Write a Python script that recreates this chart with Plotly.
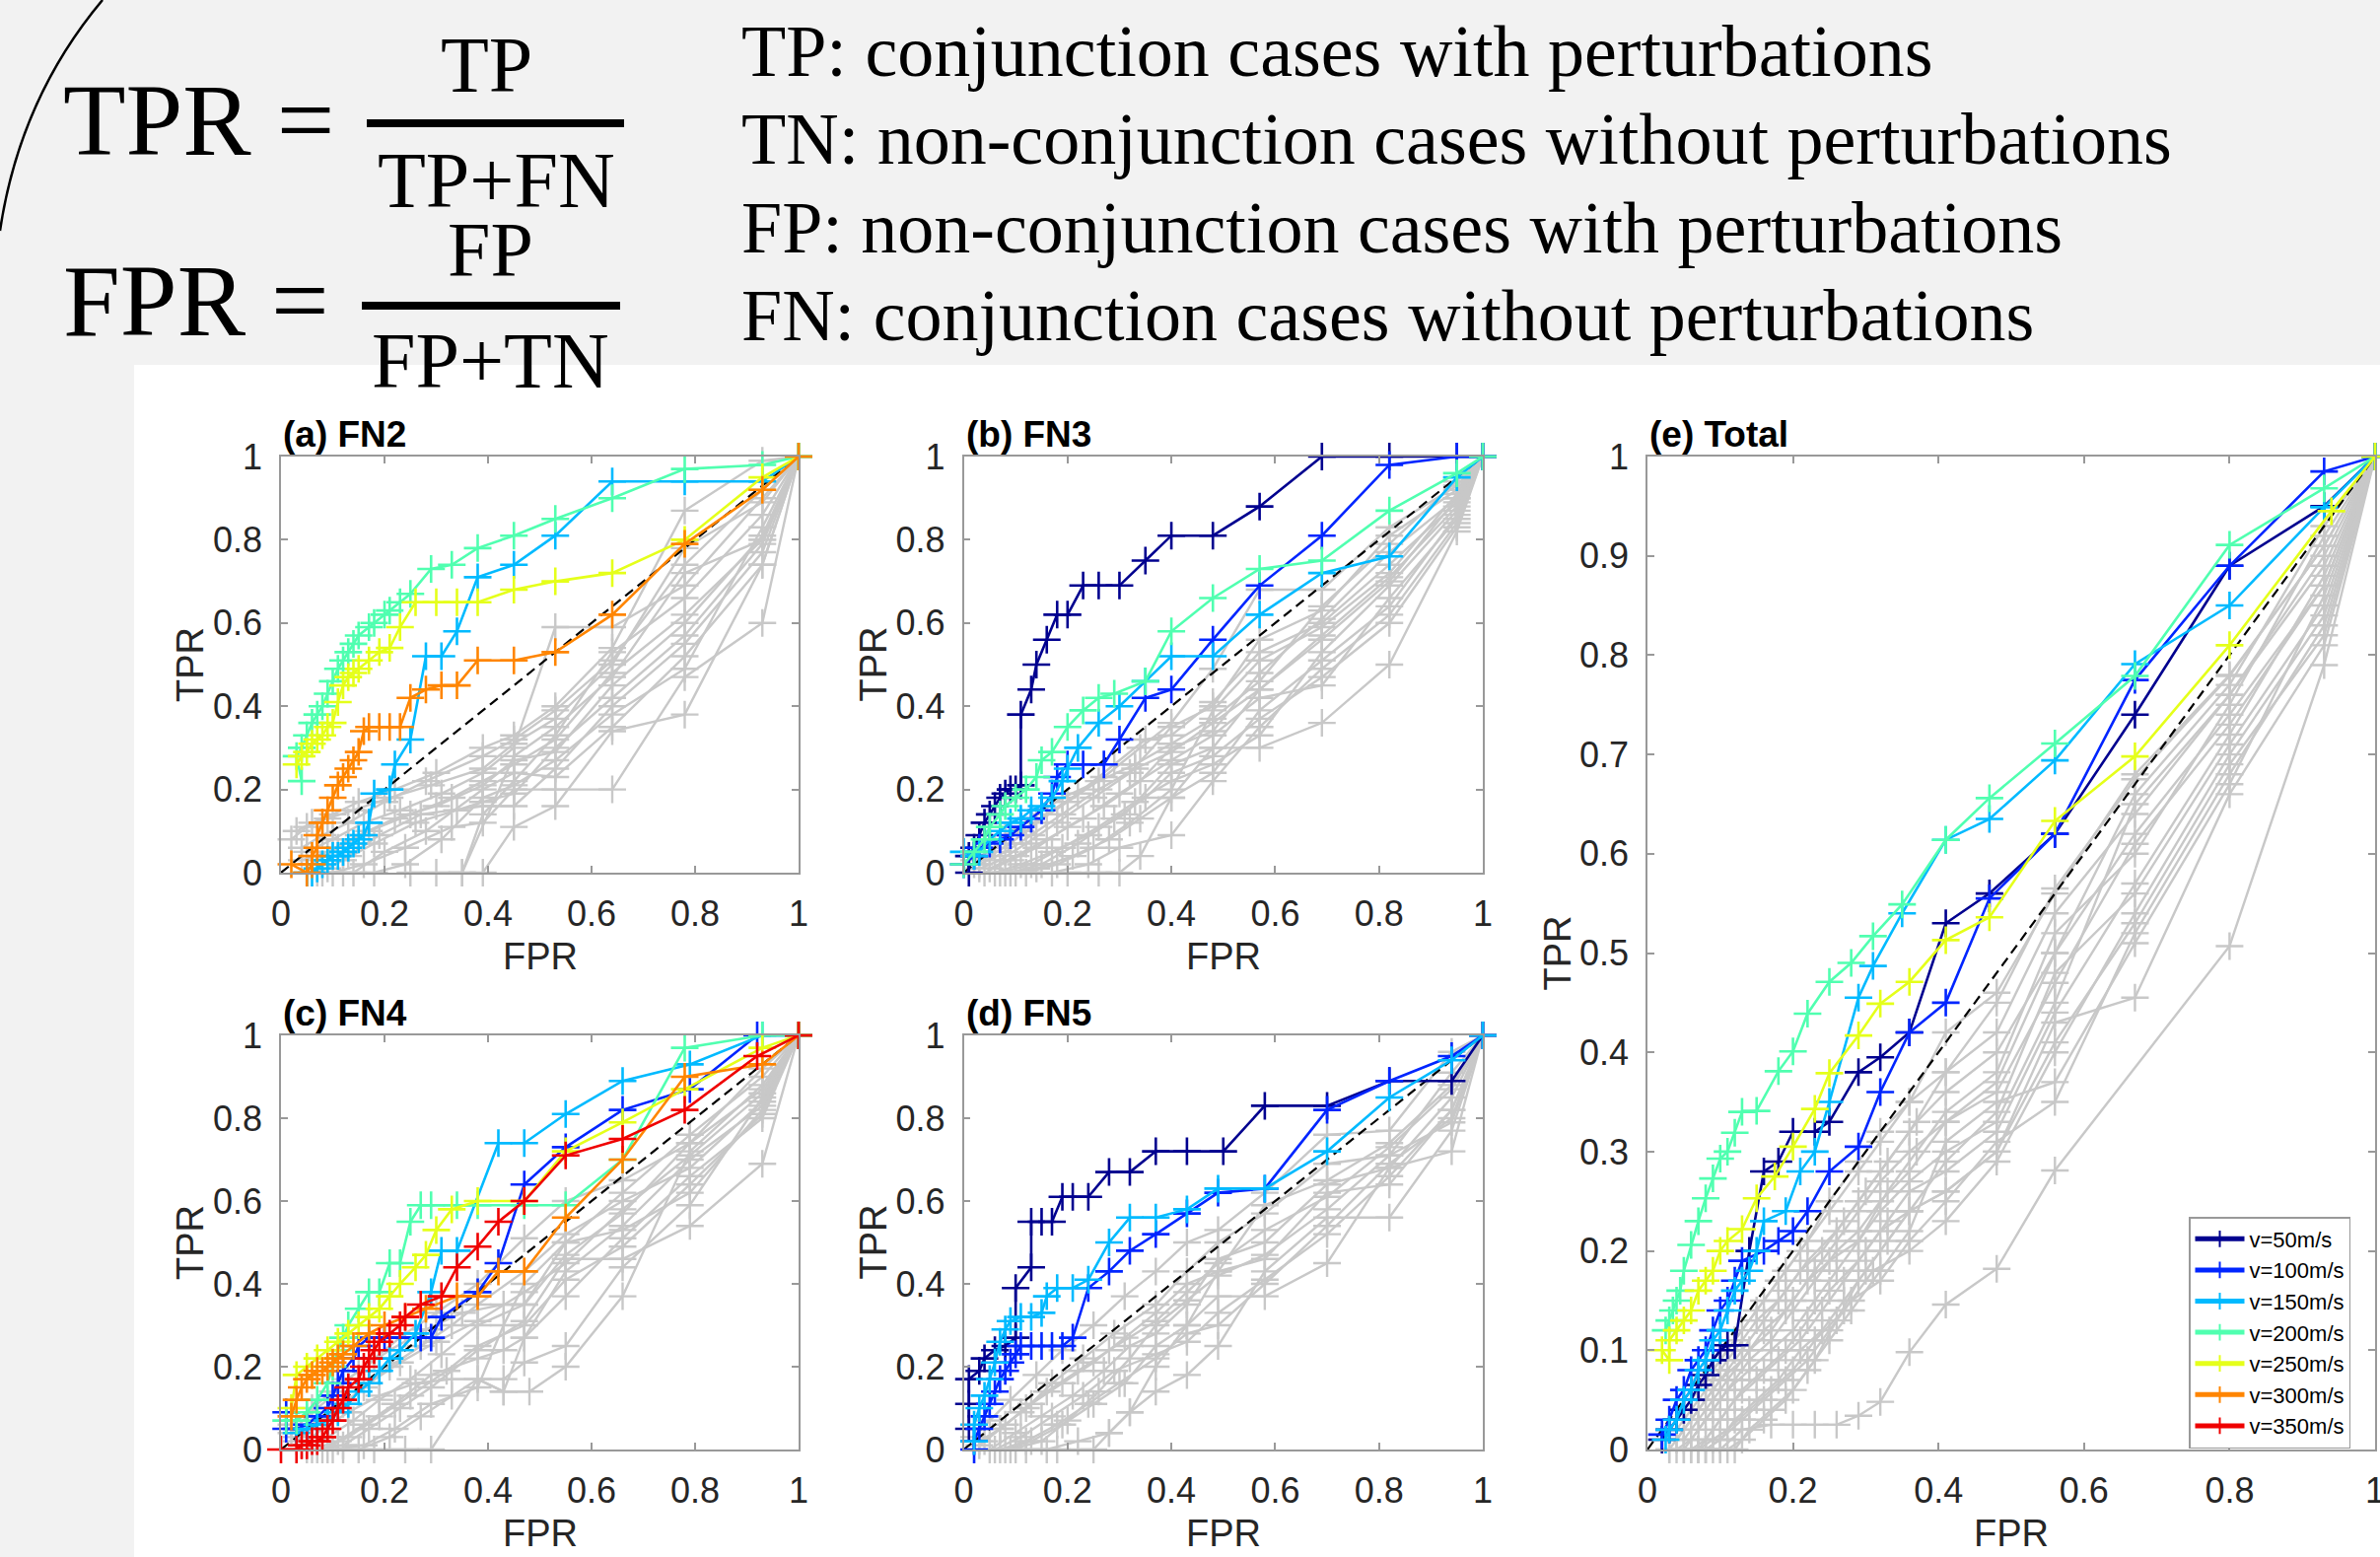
import plotly.graph_objects as go

# ---------------- data (FPR, TPR) ----------------
SPEED_LABELS = ["v=50m/s", "v=100m/s", "v=150m/s", "v=200m/s", "v=250m/s", "v=300m/s", "v=350m/s"]
TICKS_02 = [0, 0.2, 0.4, 0.6, 0.8, 1]
TICKTEXT_02 = ["0", "0.2", "0.4", "0.6", "0.8", "1"]
TICKS_01 = [0, 0.1, 0.2, 0.3, 0.4, 0.5, 0.6, 0.7, 0.8, 0.9, 1]
TICKTEXT_01 = ["0", "0.1", "0.2", "0.3", "0.4", "0.5", "0.6", "0.7", "0.8", "0.9", "1"]
DIAG = [0, 1]

# (a) FN2
A_V150 = [(0.05,0.0),(0.06,0.0),(0.07,0.01),(0.08,0.02),(0.09,0.03),(0.10,0.04),(0.11,0.04),(0.12,0.05),(0.13,0.06),(0.14,0.07),(0.15,0.08),(0.16,0.09),(0.17,0.12),(0.18,0.19),(0.21,0.20),(0.22,0.26),(0.25,0.32),(0.28,0.52),(0.31,0.52),(0.34,0.58),(0.38,0.71),(0.45,0.74),(0.53,0.81),(0.64,0.94),(0.78,0.94),(0.93,0.94),(1.0,1.0)]
A_V200 = [(0.04,0.22),(0.03,0.28),(0.04,0.30),(0.05,0.33),(0.06,0.36),(0.07,0.38),(0.08,0.40),(0.09,0.43),(0.10,0.46),(0.11,0.49),(0.12,0.51),(0.13,0.53),(0.14,0.55),(0.15,0.57),(0.17,0.59),(0.18,0.60),(0.20,0.62),(0.21,0.63),(0.23,0.65),(0.25,0.67),(0.29,0.73),(0.33,0.74),(0.38,0.78),(0.45,0.81),(0.53,0.85),(0.64,0.90),(0.78,0.97),(0.93,0.98),(1.0,1.0)]
A_V250 = [(0.03,0.26),(0.04,0.28),(0.05,0.29),(0.06,0.31),(0.07,0.32),(0.08,0.33),(0.09,0.35),(0.10,0.36),(0.11,0.41),(0.12,0.45),(0.13,0.47),(0.14,0.48),(0.15,0.49),(0.17,0.51),(0.19,0.53),(0.21,0.54),(0.23,0.59),(0.26,0.65),(0.30,0.65),(0.34,0.65),(0.38,0.65),(0.45,0.68),(0.53,0.70),(0.64,0.72),(0.78,0.80),(0.93,0.95),(1.0,1.0)]
A_V300 = [(0.02,0.02),(0.05,0.0),(0.06,0.02),(0.06,0.04),(0.07,0.06),(0.07,0.09),(0.08,0.12),(0.09,0.15),(0.10,0.18),(0.11,0.21),(0.12,0.23),(0.13,0.25),(0.14,0.27),(0.15,0.29),(0.16,0.34),(0.17,0.35),(0.19,0.35),(0.21,0.35),(0.23,0.35),(0.25,0.42),(0.28,0.44),(0.31,0.45),(0.34,0.45),(0.38,0.51),(0.45,0.51),(0.53,0.53),(0.64,0.62),(0.78,0.79),(0.93,0.92),(1.0,1.0)]
A_GRAY = [
    [(0.03,0.10),(0.06,0.12),(0.10,0.14),(0.15,0.17),(0.22,0.20),(0.30,0.24),(0.39,0.30),(0.45,0.33),(0.53,0.40),(0.64,0.54),(0.78,0.87),(0.93,0.99),(1.0,1.0)],
    [(0.04,0.06),(0.08,0.09),(0.13,0.12),(0.20,0.17),(0.28,0.22),(0.39,0.28),(0.45,0.32),(0.53,0.39),(0.64,0.51),(0.78,0.74),(0.93,0.92),(1.0,1.0)],
    [(0.05,0.05),(0.10,0.08),(0.16,0.12),(0.23,0.15),(0.31,0.19),(0.39,0.24),(0.45,0.30),(0.53,0.59),(0.64,0.59),(0.78,0.69),(0.93,0.90),(1.0,1.0)],
    [(0.06,0.02),(0.11,0.06),(0.17,0.10),(0.25,0.14),(0.33,0.18),(0.39,0.22),(0.45,0.26),(0.53,0.32),(0.64,0.48),(0.78,0.62),(0.93,0.80),(1.0,1.0)],
    [(0.07,0.0),(0.12,0.03),(0.18,0.07),(0.26,0.12),(0.34,0.15),(0.39,0.17),(0.45,0.19),(0.53,0.30),(0.64,0.42),(0.78,0.57),(0.93,0.79),(1.0,1.0)],
    [(0.08,0.0),(0.14,0.0),(0.20,0.05),(0.28,0.10),(0.39,0.20),(0.45,0.24),(0.53,0.23),(0.64,0.35),(0.78,0.52),(0.93,0.74),(1.0,1.0)],
    [(0.10,0.0),(0.16,0.02),(0.24,0.06),(0.33,0.11),(0.39,0.12),(0.45,0.20),(0.53,0.20),(0.64,0.20),(0.78,0.47),(0.93,0.60),(1.0,1.0)],
    [(0.39,0.0),(0.45,0.11),(0.53,0.16),(0.64,0.34),(0.78,0.38),(0.93,0.74),(1.0,1.0)],
    [(0.35,0.0),(0.45,0.28),(0.53,0.35),(0.64,0.47),(0.78,0.72),(0.93,0.80),(1.0,1.0)],
    [(0.02,0.08),(0.05,0.11),(0.09,0.13),(0.14,0.15),(0.21,0.18),(0.29,0.21),(0.39,0.25),(0.45,0.31),(0.53,0.37),(0.64,0.50),(0.78,0.78),(0.93,0.89),(1.0,1.0)],
    [(0.04,0.03),(0.09,0.05),(0.15,0.09),(0.22,0.13),(0.30,0.16),(0.39,0.21),(0.45,0.27),(0.53,0.29),(0.64,0.45),(0.78,0.60),(0.93,0.81),(1.0,1.0)],
    [(0.05,0.0),(0.09,0.01),(0.13,0.04),(0.19,0.09),(0.27,0.14),(0.39,0.16),(0.45,0.16),(0.53,0.25),(0.64,0.40),(0.78,0.55),(0.93,0.77),(1.0,1.0)],
    [(0.25,0.0),(0.30,0.0),(0.35,0.0),(0.39,0.14),(0.45,0.22),(0.53,0.33),(0.64,0.53),(0.78,0.66),(0.93,0.86),(1.0,1.0)],
    [(0.12,0.0),(0.18,0.0),(0.24,0.02),(0.31,0.08),(0.39,0.18),(0.45,0.21),(0.53,0.27),(0.64,0.38),(0.78,0.49),(0.93,0.83),(1.0,1.0)],
]

# (b) FN3
B_V50 = [(0.01,0.0),(0.01,0.04),(0.02,0.06),(0.03,0.09),(0.04,0.12),(0.05,0.14),(0.06,0.16),(0.07,0.18),(0.08,0.19),(0.09,0.20),(0.10,0.20),(0.11,0.21),(0.11,0.38),(0.13,0.44),(0.14,0.50),(0.16,0.56),(0.18,0.62),(0.20,0.62),(0.23,0.69),(0.26,0.69),(0.30,0.69),(0.35,0.75),(0.40,0.81),(0.48,0.81),(0.57,0.88),(0.69,1.0),(0.82,1.0),(0.95,1.0),(1.0,1.0)]
B_V100 = [(0.0,0.02),(0.02,0.04),(0.03,0.06),(0.05,0.07),(0.07,0.08),(0.09,0.09),(0.11,0.11),(0.13,0.13),(0.15,0.15),(0.17,0.19),(0.18,0.23),(0.20,0.26),(0.23,0.26),(0.27,0.26),(0.30,0.32),(0.35,0.42),(0.40,0.44),(0.48,0.56),(0.57,0.69),(0.69,0.81),(0.82,0.98),(0.95,1.0),(1.0,1.0)]
B_V150 = [(0.0,0.05),(0.02,0.04),(0.03,0.05),(0.05,0.08),(0.07,0.10),(0.09,0.12),(0.11,0.13),(0.13,0.15),(0.15,0.16),(0.17,0.18),(0.19,0.22),(0.20,0.25),(0.22,0.30),(0.26,0.36),(0.30,0.40),(0.35,0.46),(0.40,0.52),(0.48,0.52),(0.57,0.62),(0.69,0.72),(0.82,0.76),(0.95,0.95),(1.0,1.0)]
B_V200 = [(0.0,0.02),(0.02,0.05),(0.04,0.08),(0.05,0.11),(0.07,0.14),(0.08,0.16),(0.10,0.18),(0.12,0.20),(0.14,0.23),(0.15,0.27),(0.17,0.29),(0.20,0.35),(0.23,0.39),(0.26,0.42),(0.29,0.43),(0.35,0.46),(0.40,0.58),(0.48,0.66),(0.57,0.73),(0.69,0.75),(0.82,0.87),(0.95,0.96),(1.0,1.0)]
B_GRAY = [
    [(0.02,0.02),(0.05,0.04),(0.09,0.07),(0.14,0.12),(0.20,0.17),(0.27,0.23),(0.34,0.30),(0.40,0.36),(0.48,0.49),(0.57,0.68),(0.69,0.68),(0.82,0.83),(0.95,0.93),(1.0,1.0)],
    [(0.03,0.01),(0.07,0.03),(0.12,0.07),(0.18,0.12),(0.25,0.18),(0.32,0.24),(0.40,0.35),(0.48,0.40),(0.57,0.56),(0.69,0.63),(0.82,0.81),(0.95,0.92),(1.0,1.0)],
    [(0.04,0.0),(0.09,0.03),(0.14,0.06),(0.20,0.11),(0.27,0.16),(0.34,0.22),(0.40,0.30),(0.48,0.34),(0.57,0.48),(0.69,0.61),(0.82,0.77),(0.95,0.90),(1.0,1.0)],
    [(0.06,0.0),(0.11,0.02),(0.17,0.05),(0.24,0.09),(0.31,0.14),(0.40,0.26),(0.48,0.30),(0.57,0.44),(0.69,0.57),(0.82,0.71),(0.95,0.88),(1.0,1.0)],
    [(0.08,0.0),(0.14,0.01),(0.21,0.04),(0.28,0.08),(0.34,0.13),(0.40,0.18),(0.48,0.24),(0.57,0.39),(0.69,0.51),(0.82,0.64),(0.95,0.86),(1.0,1.0)],
    [(0.10,0.0),(0.17,0.0),(0.24,0.02),(0.30,0.06),(0.40,0.09),(0.48,0.22),(0.57,0.35),(0.69,0.49),(0.82,0.62),(0.95,0.84),(1.0,1.0)],
    [(0.20,0.0),(0.26,0.0),(0.30,0.0),(0.34,0.04),(0.40,0.18),(0.48,0.30),(0.57,0.30),(0.69,0.36),(0.82,0.50),(0.95,0.82),(1.0,1.0)],
    [(0.02,0.03),(0.06,0.06),(0.11,0.10),(0.16,0.14),(0.22,0.19),(0.29,0.26),(0.35,0.32),(0.40,0.33),(0.48,0.41),(0.57,0.53),(0.69,0.60),(0.82,0.74),(0.95,0.89),(1.0,1.0)],
    [(0.05,0.01),(0.10,0.04),(0.16,0.08),(0.23,0.13),(0.30,0.19),(0.40,0.27),(0.48,0.33),(0.57,0.42),(0.69,0.45),(0.82,0.66),(0.95,0.85),(1.0,1.0)],
    [(0.07,0.0),(0.13,0.02),(0.19,0.06),(0.26,0.11),(0.33,0.17),(0.40,0.22),(0.48,0.26),(0.57,0.33),(0.69,0.53),(0.82,0.69),(0.95,0.87),(1.0,1.0)],
    [(0.12,0.0),(0.18,0.02),(0.25,0.06),(0.32,0.12),(0.40,0.20),(0.48,0.39),(0.57,0.51),(0.69,0.59),(0.82,0.72),(0.95,0.91),(1.0,1.0)],
    [(0.01,0.04),(0.04,0.06),(0.08,0.09),(0.13,0.13),(0.19,0.18),(0.26,0.22),(0.33,0.26),(0.40,0.31),(0.48,0.37),(0.57,0.46),(0.69,0.64),(0.82,0.79),(0.95,0.94),(1.0,1.0)],
    [(0.03,0.02),(0.08,0.05),(0.13,0.09),(0.19,0.14),(0.26,0.20),(0.33,0.25),(0.40,0.29),(0.48,0.36),(0.57,0.44),(0.69,0.56),(0.82,0.70),(0.95,0.90),(1.0,1.0)],
    [(0.09,0.0),(0.15,0.02),(0.22,0.07),(0.29,0.13),(0.35,0.18),(0.40,0.24),(0.48,0.28),(0.57,0.37),(0.69,0.47),(0.82,0.60),(0.95,0.83),(1.0,1.0)],
]

# (c) FN4
C_V100 = [(0.01,0.09),(0.01,0.05),(0.03,0.05),(0.05,0.06),(0.07,0.08),(0.09,0.10),(0.10,0.13),(0.11,0.16),(0.12,0.19),(0.14,0.22),(0.15,0.25),(0.17,0.27),(0.20,0.27),(0.23,0.27),(0.27,0.27),(0.29,0.27),(0.31,0.32),(0.38,0.38),(0.42,0.45),(0.47,0.64),(0.55,0.73),(0.66,0.82),(0.79,0.87),(0.92,1.0),(1.0,1.0)]
C_V150 = [(0.03,0.04),(0.05,0.05),(0.07,0.06),(0.09,0.07),(0.11,0.09),(0.13,0.11),(0.15,0.14),(0.17,0.16),(0.19,0.19),(0.21,0.22),(0.23,0.24),(0.26,0.28),(0.29,0.38),(0.31,0.48),(0.34,0.48),(0.42,0.74),(0.47,0.74),(0.55,0.81),(0.66,0.89),(0.79,0.93),(0.93,1.0),(1.0,1.0)]
C_V200 = [(0.01,0.07),(0.03,0.07),(0.05,0.09),(0.07,0.12),(0.09,0.16),(0.10,0.20),(0.11,0.24),(0.12,0.27),(0.13,0.30),(0.15,0.34),(0.17,0.38),(0.19,0.38),(0.21,0.45),(0.23,0.45),(0.25,0.55),(0.27,0.59),(0.29,0.59),(0.34,0.59),(0.38,0.59),(0.47,0.59),(0.55,0.59),(0.66,0.70),(0.78,0.97),(0.93,1.0),(1.0,1.0)]
C_V250 = [(0.02,0.10),(0.03,0.18),(0.05,0.20),(0.07,0.22),(0.09,0.24),(0.11,0.26),(0.13,0.28),(0.15,0.30),(0.17,0.32),(0.19,0.34),(0.21,0.37),(0.23,0.40),(0.26,0.44),(0.28,0.47),(0.30,0.53),(0.33,0.58),(0.38,0.60),(0.47,0.60),(0.55,0.72),(0.66,0.79),(0.78,0.87),(0.93,0.97),(1.0,1.0)]
C_V300 = [(0.02,0.08),(0.03,0.12),(0.04,0.15),(0.05,0.17),(0.06,0.18),(0.07,0.19),(0.08,0.19),(0.09,0.20),(0.10,0.21),(0.11,0.22),(0.12,0.23),(0.14,0.25),(0.17,0.28),(0.20,0.30),(0.24,0.32),(0.28,0.34),(0.34,0.37),(0.38,0.37),(0.42,0.43),(0.47,0.43),(0.55,0.56),(0.66,0.70),(0.78,0.90),(0.93,0.93),(1.0,1.0)]
C_V350 = [(0.0,0.0),(0.03,0.0),(0.04,0.01),(0.05,0.01),(0.06,0.02),(0.07,0.02),(0.08,0.03),(0.09,0.05),(0.10,0.07),(0.11,0.10),(0.12,0.12),(0.13,0.15),(0.15,0.17),(0.16,0.20),(0.17,0.22),(0.18,0.24),(0.19,0.26),(0.21,0.28),(0.23,0.30),(0.24,0.32),(0.27,0.35),(0.31,0.37),(0.34,0.44),(0.38,0.49),(0.42,0.55),(0.47,0.60),(0.55,0.71),(0.66,0.75),(0.78,0.82),(0.92,0.95),(1.0,1.0)]
C_GRAY = [
    [(0.02,0.04),(0.05,0.08),(0.09,0.12),(0.13,0.17),(0.18,0.22),(0.24,0.28),(0.30,0.33),(0.38,0.40),(0.47,0.51),(0.55,0.60),(0.66,0.65),(0.79,0.74),(0.93,0.92),(1.0,1.0)],
    [(0.03,0.02),(0.07,0.06),(0.11,0.10),(0.16,0.15),(0.21,0.20),(0.27,0.25),(0.33,0.30),(0.38,0.35),(0.47,0.43),(0.55,0.52),(0.66,0.60),(0.79,0.68),(0.93,0.84),(1.0,1.0)],
    [(0.05,0.0),(0.09,0.03),(0.14,0.07),(0.19,0.12),(0.25,0.17),(0.31,0.23),(0.38,0.30),(0.47,0.35),(0.55,0.50),(0.66,0.53),(0.79,0.62),(0.93,0.82),(1.0,1.0)],
    [(0.07,0.0),(0.12,0.01),(0.17,0.05),(0.23,0.10),(0.29,0.15),(0.38,0.24),(0.47,0.31),(0.55,0.46),(0.66,0.46),(0.79,0.54),(0.93,0.69),(1.0,1.0)],
    [(0.09,0.0),(0.15,0.0),(0.21,0.03),(0.27,0.08),(0.33,0.13),(0.38,0.17),(0.43,0.14),(0.47,0.27),(0.55,0.37),(0.66,0.51),(0.79,0.66),(0.93,0.80),(1.0,1.0)],
    [(0.12,0.0),(0.18,0.0),(0.24,0.0),(0.29,0.0),(0.38,0.17),(0.43,0.14),(0.48,0.14),(0.55,0.20),(0.66,0.37),(0.79,0.72),(0.93,0.88),(1.0,1.0)],
    [(0.04,0.01),(0.08,0.05),(0.13,0.09),(0.19,0.13),(0.26,0.16),(0.33,0.17),(0.43,0.17),(0.47,0.21),(0.55,0.25),(0.66,0.44),(0.79,0.59),(0.93,0.85),(1.0,1.0)],
    [(0.02,0.06),(0.06,0.10),(0.10,0.14),(0.15,0.19),(0.21,0.24),(0.28,0.29),(0.35,0.33),(0.43,0.35),(0.47,0.35),(0.55,0.47),(0.66,0.57),(0.79,0.74),(0.93,0.87),(1.0,1.0)],
    [(0.06,0.0),(0.11,0.02),(0.16,0.06),(0.22,0.11),(0.29,0.18),(0.38,0.22),(0.43,0.24),(0.47,0.27),(0.55,0.43),(0.66,0.54),(0.79,0.70),(0.93,0.83),(1.0,1.0)],
    [(0.10,0.0),(0.16,0.01),(0.22,0.05),(0.29,0.11),(0.38,0.15),(0.43,0.30),(0.47,0.40),(0.55,0.50),(0.66,0.62),(0.79,0.76),(0.93,0.90),(1.0,1.0)],
    [(0.03,0.03),(0.07,0.07),(0.12,0.11),(0.17,0.16),(0.23,0.21),(0.30,0.26),(0.38,0.31),(0.47,0.38),(0.55,0.45),(0.66,0.58),(0.79,0.71),(0.93,0.86),(1.0,1.0)],
    [(0.08,0.0),(0.13,0.03),(0.19,0.08),(0.25,0.13),(0.32,0.19),(0.38,0.25),(0.47,0.30),(0.55,0.41),(0.66,0.49),(0.79,0.64),(0.93,0.81),(1.0,1.0)],
]

# (d) FN5
D_V50 = [(0.01,0.05),(0.01,0.11),(0.01,0.17),(0.03,0.19),(0.04,0.22),(0.06,0.24),(0.08,0.25),(0.10,0.27),(0.10,0.39),(0.13,0.44),(0.13,0.55),(0.15,0.55),(0.17,0.55),(0.19,0.61),(0.21,0.61),(0.24,0.61),(0.28,0.67),(0.32,0.67),(0.37,0.72),(0.43,0.72),(0.50,0.72),(0.58,0.83),(0.70,0.83),(0.82,0.89),(0.94,0.89),(1.0,1.0)]
D_V100 = [(0.02,0.0),(0.02,0.02),(0.03,0.05),(0.04,0.08),(0.05,0.11),(0.06,0.14),(0.07,0.17),(0.08,0.19),(0.09,0.21),(0.10,0.23),(0.11,0.25),(0.13,0.25),(0.15,0.25),(0.17,0.25),(0.19,0.25),(0.21,0.27),(0.24,0.39),(0.28,0.43),(0.32,0.48),(0.37,0.52),(0.43,0.57),(0.49,0.62),(0.58,0.63),(0.70,0.82),(0.82,0.89),(0.94,0.95),(1.0,1.0)]
D_V150 = [(0.02,0.02),(0.02,0.06),(0.03,0.10),(0.04,0.13),(0.05,0.17),(0.06,0.21),(0.07,0.26),(0.08,0.29),(0.09,0.31),(0.11,0.32),(0.13,0.32),(0.15,0.33),(0.16,0.37),(0.18,0.39),(0.21,0.39),(0.24,0.41),(0.28,0.50),(0.32,0.56),(0.37,0.56),(0.43,0.58),(0.49,0.63),(0.58,0.63),(0.70,0.72),(0.82,0.85),(0.94,0.94),(1.0,1.0)]
D_GRAY = [
    [(0.02,0.03),(0.05,0.07),(0.09,0.12),(0.14,0.18),(0.19,0.24),(0.25,0.30),(0.31,0.37),(0.37,0.43),(0.43,0.50),(0.49,0.53),(0.58,0.62),(0.70,0.76),(0.82,0.77),(0.94,0.96),(1.0,1.0)],
    [(0.03,0.01),(0.07,0.05),(0.12,0.10),(0.17,0.16),(0.23,0.22),(0.29,0.28),(0.37,0.35),(0.43,0.43),(0.49,0.50),(0.58,0.57),(0.70,0.69),(0.82,0.71),(0.94,0.91),(1.0,1.0)],
    [(0.05,0.0),(0.10,0.04),(0.15,0.08),(0.21,0.13),(0.27,0.19),(0.32,0.25),(0.37,0.28),(0.43,0.35),(0.49,0.46),(0.58,0.50),(0.70,0.64),(0.82,0.68),(0.94,0.85),(1.0,1.0)],
    [(0.08,0.0),(0.13,0.02),(0.19,0.06),(0.25,0.11),(0.31,0.16),(0.37,0.25),(0.43,0.30),(0.49,0.43),(0.58,0.46),(0.70,0.62),(0.82,0.64),(0.94,0.82),(1.0,1.0)],
    [(0.10,0.0),(0.16,0.0),(0.22,0.02),(0.28,0.04),(0.32,0.09),(0.37,0.14),(0.43,0.18),(0.49,0.25),(0.58,0.43),(0.70,0.56),(0.82,0.56),(0.94,0.77),(1.0,1.0)],
    [(0.12,0.0),(0.18,0.0),(0.25,0.0),(0.28,0.04),(0.32,0.09),(0.37,0.20),(0.43,0.30),(0.49,0.37),(0.58,0.37),(0.70,0.45),(0.82,0.68),(0.94,0.72),(1.0,1.0)],
    [(0.04,0.02),(0.08,0.06),(0.13,0.11),(0.19,0.16),(0.25,0.21),(0.31,0.27),(0.37,0.33),(0.43,0.40),(0.49,0.43),(0.58,0.59),(0.70,0.65),(0.82,0.74),(0.94,0.88),(1.0,1.0)],
    [(0.06,0.0),(0.11,0.03),(0.17,0.08),(0.23,0.13),(0.29,0.19),(0.37,0.23),(0.43,0.26),(0.49,0.33),(0.58,0.41),(0.70,0.52),(0.82,0.66),(0.94,0.82),(1.0,1.0)],
    [(0.09,0.0),(0.15,0.02),(0.20,0.07),(0.26,0.14),(0.32,0.22),(0.37,0.30),(0.43,0.36),(0.49,0.42),(0.58,0.47),(0.70,0.58),(0.82,0.71),(0.94,0.79),(1.0,1.0)],
    [(0.03,0.02),(0.07,0.05),(0.11,0.09),(0.16,0.14),(0.22,0.19),(0.28,0.24),(0.37,0.31),(0.43,0.38),(0.49,0.45),(0.58,0.53),(0.70,0.61),(0.82,0.73),(0.94,0.87),(1.0,1.0)],
    [(0.07,0.0),(0.12,0.02),(0.18,0.06),(0.24,0.11),(0.30,0.16),(0.37,0.22),(0.43,0.28),(0.49,0.30),(0.58,0.40),(0.70,0.54),(0.82,0.69),(0.94,0.80),(1.0,1.0)],
]

# (e) Total
E_V50 = [(0.02,0.01),(0.03,0.02),(0.04,0.03),(0.05,0.04),(0.06,0.05),(0.07,0.065),(0.08,0.075),(0.09,0.09),(0.10,0.10),(0.11,0.105),(0.12,0.105),(0.14,0.20),(0.16,0.28),(0.18,0.29),(0.20,0.32),(0.23,0.32),(0.25,0.33),(0.29,0.38),(0.32,0.395),(0.36,0.42),(0.41,0.53),(0.47,0.56),(0.56,0.62),(0.67,0.74),(0.80,0.89),(0.93,0.95),(1.0,1.0)]
E_V100 = [(0.02,0.015),(0.03,0.03),(0.04,0.05),(0.05,0.06),(0.06,0.08),(0.07,0.09),(0.08,0.10),(0.09,0.12),(0.10,0.14),(0.11,0.15),(0.12,0.17),(0.13,0.19),(0.16,0.20),(0.18,0.21),(0.20,0.22),(0.22,0.24),(0.25,0.28),(0.29,0.305),(0.32,0.36),(0.36,0.42),(0.41,0.45),(0.47,0.555),(0.56,0.62),(0.67,0.775),(0.80,0.89),(0.93,0.985),(1.0,1.0)]
E_V150 = [(0.025,0.01),(0.03,0.02),(0.04,0.03),(0.05,0.05),(0.06,0.06),(0.07,0.08),(0.08,0.09),(0.09,0.11),(0.10,0.12),(0.11,0.14),(0.12,0.16),(0.13,0.17),(0.14,0.18),(0.15,0.20),(0.16,0.23),(0.19,0.24),(0.21,0.28),(0.23,0.30),(0.25,0.35),(0.29,0.455),(0.31,0.487),(0.35,0.54),(0.41,0.614),(0.47,0.635),(0.56,0.694),(0.67,0.791),(0.80,0.85),(0.93,0.949),(1.0,1.0)]
E_V200 = [(0.025,0.12),(0.03,0.13),(0.035,0.14),(0.04,0.15),(0.045,0.16),(0.05,0.18),(0.06,0.206),(0.07,0.23),(0.08,0.253),(0.09,0.273),(0.10,0.293),(0.11,0.30),(0.12,0.319),(0.13,0.34),(0.15,0.341),(0.18,0.381),(0.20,0.401),(0.22,0.439),(0.25,0.471),(0.28,0.49),(0.31,0.517),(0.35,0.549),(0.41,0.614),(0.47,0.656),(0.56,0.711),(0.67,0.779),(0.80,0.911),(0.93,0.968),(1.0,1.0)]
E_V250 = [(0.02,0.10),(0.03,0.09),(0.03,0.11),(0.04,0.12),(0.05,0.13),(0.06,0.14),(0.07,0.16),(0.08,0.17),(0.09,0.18),(0.10,0.20),(0.11,0.21),(0.13,0.222),(0.15,0.253),(0.175,0.275),(0.20,0.305),(0.23,0.343),(0.25,0.379),(0.29,0.417),(0.32,0.449),(0.36,0.471),(0.41,0.513),(0.47,0.536),(0.56,0.633),(0.67,0.698),(0.80,0.81),(0.94,0.945),(1.0,1.0)]
E_GRAY = [
    [(0.03,0.0),(0.07,0.0),(0.10,0.0),(0.13,0.02),(0.17,0.025),(0.20,0.025),(0.23,0.025),(0.26,0.025),(0.29,0.034),(0.32,0.048),(0.36,0.098),(0.41,0.146),(0.48,0.182),(0.56,0.281),(0.80,0.507),(0.93,0.79),(1.0,1.0)],
    [(0.02,0.01),(0.04,0.03),(0.06,0.05),(0.08,0.07),(0.10,0.09),(0.12,0.11),(0.15,0.14),(0.18,0.17),(0.21,0.20),(0.25,0.24),(0.29,0.28),(0.32,0.31),(0.36,0.35),(0.41,0.42),(0.48,0.46),(0.56,0.56),(0.67,0.68),(0.80,0.78),(0.93,0.91),(1.0,1.0)],
    [(0.03,0.0),(0.05,0.02),(0.07,0.04),(0.09,0.06),(0.11,0.08),(0.13,0.10),(0.16,0.13),(0.19,0.16),(0.22,0.19),(0.26,0.22),(0.29,0.25),(0.32,0.28),(0.36,0.32),(0.41,0.38),(0.48,0.42),(0.56,0.54),(0.67,0.64),(0.80,0.76),(0.93,0.89),(1.0,1.0)],
    [(0.04,0.0),(0.06,0.01),(0.08,0.03),(0.10,0.05),(0.12,0.07),(0.14,0.09),(0.17,0.11),(0.20,0.14),(0.23,0.17),(0.26,0.20),(0.29,0.22),(0.32,0.25),(0.36,0.28),(0.41,0.33),(0.48,0.37),(0.56,0.50),(0.67,0.62),(0.80,0.74),(0.93,0.87),(1.0,1.0)],
    [(0.05,0.0),(0.07,0.0),(0.09,0.02),(0.11,0.04),(0.13,0.06),(0.16,0.08),(0.19,0.10),(0.22,0.13),(0.25,0.16),(0.29,0.19),(0.32,0.22),(0.36,0.24),(0.41,0.29),(0.48,0.34),(0.56,0.48),(0.67,0.56),(0.80,0.71),(0.93,0.85),(1.0,1.0)],
    [(0.06,0.0),(0.08,0.0),(0.10,0.01),(0.12,0.03),(0.15,0.05),(0.18,0.07),(0.21,0.10),(0.24,0.12),(0.27,0.15),(0.30,0.18),(0.33,0.21),(0.36,0.24),(0.41,0.26),(0.48,0.30),(0.56,0.41),(0.67,0.53),(0.80,0.69),(0.93,0.82),(1.0,1.0)],
    [(0.07,0.0),(0.09,0.0),(0.11,0.0),(0.13,0.01),(0.16,0.03),(0.19,0.05),(0.22,0.08),(0.25,0.11),(0.28,0.14),(0.32,0.18),(0.36,0.22),(0.41,0.31),(0.48,0.35),(0.56,0.37),(0.67,0.51),(0.80,0.67),(0.93,0.86),(1.0,1.0)],
    [(0.08,0.0),(0.10,0.0),(0.12,0.0),(0.14,0.02),(0.17,0.04),(0.20,0.06),(0.23,0.09),(0.26,0.13),(0.29,0.17),(0.32,0.20),(0.36,0.24),(0.41,0.26),(0.48,0.30),(0.56,0.43),(0.67,0.455),(0.80,0.66),(0.93,0.81),(1.0,1.0)],
    [(0.03,0.02),(0.05,0.04),(0.07,0.06),(0.09,0.08),(0.11,0.10),(0.13,0.12),(0.16,0.15),(0.19,0.18),(0.22,0.21),(0.25,0.25),(0.29,0.29),(0.32,0.32),(0.36,0.35),(0.41,0.38),(0.48,0.45),(0.56,0.565),(0.67,0.675),(0.80,0.779),(0.93,0.91),(1.0,1.0)],
    [(0.05,0.01),(0.07,0.03),(0.09,0.05),(0.11,0.07),(0.14,0.10),(0.17,0.12),(0.20,0.15),(0.23,0.18),(0.26,0.21),(0.29,0.24),(0.32,0.27),(0.36,0.30),(0.41,0.33),(0.48,0.36),(0.56,0.47),(0.67,0.61),(0.80,0.73),(0.93,0.87),(1.0,1.0)],
    [(0.04,0.01),(0.06,0.03),(0.08,0.05),(0.10,0.07),(0.13,0.09),(0.16,0.12),(0.19,0.14),(0.22,0.17),(0.25,0.19),(0.29,0.21),(0.32,0.24),(0.36,0.27),(0.41,0.30),(0.48,0.33),(0.56,0.45),(0.67,0.65),(0.80,0.76),(0.93,0.90),(1.0,1.0)],
    [(0.06,0.0),(0.08,0.01),(0.10,0.03),(0.12,0.05),(0.15,0.07),(0.18,0.09),(0.21,0.11),(0.24,0.14),(0.27,0.17),(0.30,0.20),(0.33,0.23),(0.36,0.26),(0.41,0.28),(0.48,0.32),(0.56,0.44),(0.67,0.57),(0.80,0.72),(0.93,0.88),(1.0,1.0)],
    [(0.05,0.0),(0.07,0.02),(0.09,0.04),(0.11,0.06),(0.14,0.08),(0.17,0.10),(0.20,0.12),(0.23,0.15),(0.26,0.18),(0.29,0.21),(0.33,0.26),(0.37,0.30),(0.41,0.34),(0.48,0.38),(0.56,0.52),(0.67,0.60),(0.80,0.75),(0.93,0.92),(1.0,1.0)],
    [(0.07,0.0),(0.09,0.01),(0.11,0.02),(0.14,0.04),(0.17,0.06),(0.20,0.08),(0.23,0.11),(0.27,0.14),(0.31,0.18),(0.36,0.20),(0.41,0.23),(0.48,0.29),(0.56,0.40),(0.67,0.54),(0.80,0.70),(0.93,0.84),(1.0,1.0)],
    [(0.04,0.02),(0.06,0.04),(0.08,0.06),(0.10,0.08),(0.12,0.10),(0.15,0.13),(0.18,0.15),(0.21,0.18),(0.24,0.20),(0.27,0.23),(0.30,0.26),(0.33,0.29),(0.37,0.33),(0.41,0.36),(0.48,0.40),(0.56,0.50),(0.67,0.66),(0.80,0.77),(0.93,0.93),(1.0,1.0)],
    [(0.08,0.0),(0.10,0.01),(0.13,0.03),(0.16,0.05),(0.19,0.07),(0.22,0.09),(0.25,0.12),(0.28,0.15),(0.32,0.17),(0.36,0.21),(0.41,0.25),(0.48,0.31),(0.56,0.35),(0.67,0.52),(0.80,0.68),(0.93,0.83),(1.0,1.0)],
]

# ---------------- styling / layout ----------------
W, H = 2414, 1579
SPEED_COLORS = ["#00008F", "#0025FF", "#00BAFF", "#50FFB0", "#E5FF1A", "#FF8500", "#EF0000"]
GRAY = "#c8c8c8"
AXCOL = "#999999"
SANS = "Liberation Sans"
SERIF = "Liberation Serif"


def px(x):
    return x / W


def py(y):
    return 1 - y / H


PANELS = [
    dict(box=(285, 463, 810, 885), title="(a) FN2", gray=A_GRAY,
         series=[(2, A_V150), (3, A_V200), (4, A_V250), (5, A_V300)], yt=(TICKS_02, TICKTEXT_02)),
    dict(box=(977.5, 463, 1504, 885), title="(b) FN3", gray=B_GRAY,
         series=[(0, B_V50), (1, B_V100), (2, B_V150), (3, B_V200)], yt=(TICKS_02, TICKTEXT_02)),
    dict(box=(285, 1050, 810, 1470), title="(c) FN4", gray=C_GRAY,
         series=[(1, C_V100), (2, C_V150), (3, C_V200), (4, C_V250), (5, C_V300), (6, C_V350)], yt=(TICKS_02, TICKTEXT_02)),
    dict(box=(977.5, 1050, 1504, 1470), title="(d) FN5", gray=D_GRAY,
         series=[(0, D_V50), (1, D_V100), (2, D_V150)], yt=(TICKS_02, TICKTEXT_02)),
    dict(box=(1671, 463, 2409, 1470), title="(e) Total", gray=E_GRAY,
         series=[(0, E_V50), (1, E_V100), (2, E_V150), (3, E_V200), (4, E_V250)], yt=(TICKS_01, TICKTEXT_01)),
]

fig = go.Figure()
layout_axes = {}
annotations = []
legend_done = set()
marker_size = 20

for i, p in enumerate(PANELS, start=1):
    xa = "x" if i == 1 else f"x{i}"
    ya = "y" if i == 1 else f"y{i}"
    l, t, r, b = p["box"]
    common = dict(range=[0, 1], showline=True, linecolor=AXCOL, linewidth=1.5, mirror="ticks",
                  ticks="inside", ticklen=7, tickwidth=1.5, tickcolor=AXCOL, tickmode="array",
                  showgrid=False, zeroline=False, fixedrange=True, automargin=False,
                  ticklabeloverflow="allow",
                  tickfont=dict(family=SANS, size=36, color="#262626"))
    layout_axes["xaxis" if i == 1 else f"xaxis{i}"] = dict(
        common, domain=[px(l), px(r)], anchor=ya, tickvals=TICKS_02, ticktext=TICKTEXT_02,
        ticklabelstandoff=9)
    layout_axes["yaxis" if i == 1 else f"yaxis{i}"] = dict(
        common, domain=[py(b), py(t)], anchor=xa, tickvals=p["yt"][0], ticktext=p["yt"][1],
        ticklabelstandoff=10)

    for curve in p["gray"]:
        fig.add_trace(go.Scatter(
            x=[c[0] for c in curve], y=[c[1] for c in curve], xaxis=xa, yaxis=ya,
            mode="lines+markers", line=dict(color=GRAY, width=2.4),
            marker=dict(symbol="cross-thin", size=marker_size, line=dict(color=GRAY, width=2.4)),
            showlegend=False, cliponaxis=False, hoverinfo="skip"))
    fig.add_trace(go.Scatter(
        x=DIAG, y=DIAG, xaxis=xa, yaxis=ya, mode="lines",
        line=dict(color="black", width=2.2, dash="10px,6px"), showlegend=False, hoverinfo="skip"))
    for k, pts in p["series"]:
        col = SPEED_COLORS[k]
        show = k not in legend_done
        legend_done.add(k)
        fig.add_trace(go.Scatter(
            x=[c[0] for c in pts], y=[c[1] for c in pts], xaxis=xa, yaxis=ya,
            mode="lines+markers", name=SPEED_LABELS[k], legendrank=k + 1,
            line=dict(color=col, width=2.6),
            marker=dict(symbol="cross-thin", size=marker_size, line=dict(color=col, width=2.6)),
            showlegend=show, cliponaxis=False))

    base = t - 10
    annotations.append(dict(text="<b>" + p["title"] + "</b>", x=px(l), y=py(base - 0.3465 * 37),
                            xref="paper", yref="paper", xanchor="left", yanchor="middle",
                            showarrow=False, font=dict(family=SANS, size=37, color="black")))
    annotations.append(dict(text="FPR", x=px((l + r) / 2), y=py(b + 85), xref="paper", yref="paper",
                            xanchor="center", yanchor="middle", showarrow=False,
                            font=dict(family=SANS, size=38, color="#262626")))
    annotations.append(dict(text="TPR", x=px(l - 92), y=py((t + b) / 2), xref="paper", yref="paper",
                            xanchor="center", yanchor="middle", showarrow=False, textangle=-90,
                            font=dict(family=SANS, size=38, color="#262626")))


def serif_note(text, x, baseline, size, anchor="left"):
    return dict(text=text, x=px(x), y=py(baseline - 0.3375 * size), xref="paper", yref="paper",
                xanchor=anchor, yanchor="middle", showarrow=False,
                font=dict(family=SERIF, size=size, color="black"))


annotations += [
    serif_note("TPR =", 62, 157, 104),
    serif_note("TP", 493, 93, 80, "center"),
    serif_note("TP+FN", 503, 210, 80, "center"),
    serif_note("FPR =", 62, 340, 104),
    serif_note("FP", 498, 279, 78, "center"),
    serif_note("FP+TN", 497, 393, 80, "center"),
    serif_note("TP: conjunction cases with perturbations", 750, 77, 74),
    serif_note("TN: non-conjunction cases without perturbations", 750, 166, 74),
    serif_note("FP: non-conjunction cases with perturbations", 750, 256, 74),
    serif_note("FN: conjunction cases without perturbations", 750, 345, 74),
]

shapes = [
    dict(type="rect", xref="paper", yref="paper", x0=px(136), x1=1, y0=0, y1=py(370),
         fillcolor="white", line=dict(width=0), layer="below"),
    dict(type="path", xref="paper", yref="paper",
         path=f"M {px(104)},{py(0)} Q {px(20)},{py(100)} {px(0)},{py(234)}",
         line=dict(color="black", width=2.5)),
    dict(type="line", xref="paper", yref="paper", x0=px(372), x1=px(633), y0=py(125), y1=py(125),
         line=dict(color="black", width=8)),
    dict(type="line", xref="paper", yref="paper", x0=px(367), x1=px(629), y0=py(310), y1=py(310),
         line=dict(color="black", width=8)),
]

fig.update_layout(
    width=W, height=H, autosize=False,
    margin=dict(l=0, r=0, t=0, b=0, pad=0, autoexpand=False),
    paper_bgcolor="#f2f2f2", plot_bgcolor="white",
    font=dict(family=SANS, color="#262626"),
    showlegend=True,
    legend=dict(x=px(2220), y=py(1234), xanchor="left", yanchor="top", bgcolor="white",
                bordercolor=AXCOL, borderwidth=1.5, font=dict(family=SANS, size=22, color="black"),
                itemwidth=50, tracegroupgap=0, traceorder="normal", itemsizing="constant"),
    annotations=annotations, shapes=shapes,
    **layout_axes,
)

PIN_SCRIPT = (
    "var gd=document.getElementById('{plot_id}');"
    "document.documentElement.style.margin='0';document.documentElement.style.overflow='hidden';"
    "document.body.style.margin='0';document.body.style.overflow='hidden';"
    "gd.style.position='fixed';gd.style.left='0px';gd.style.top='0px';"
)

fig.write_html("out.html", post_script=PIN_SCRIPT, config={"displayModeBar": False})
